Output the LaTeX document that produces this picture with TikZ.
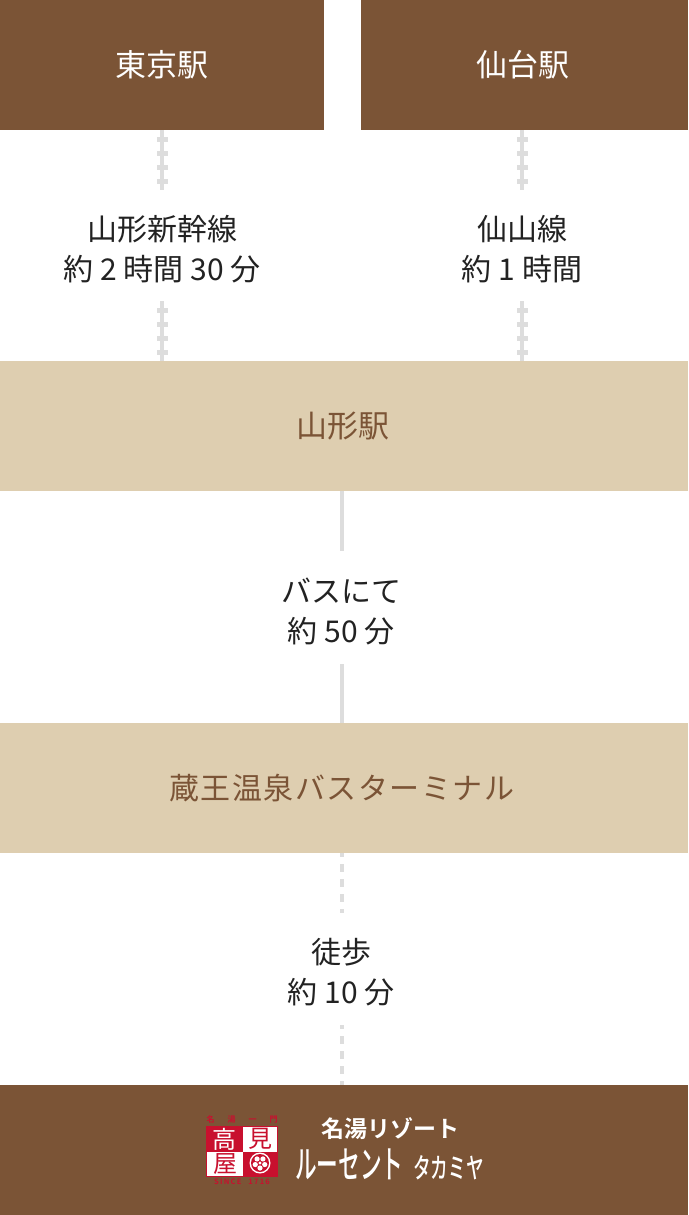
\documentclass[tikz,border=0pt]{standalone}
\usepackage{fontspec}
\setmainfont{Noto Sans CJK JP}
\newfontfamily\boldjp{Noto Sans CJK JP Bold}
\newfontfamily\mediumjp{Noto Sans CJK JP Medium}
\definecolor{brownbox}{HTML}{7B5436}
\definecolor{beigebox}{HTML}{DECEB0}
\definecolor{linegrey}{HTML}{DDDDDD}
\definecolor{inktext}{HTML}{222222}
\definecolor{logored}{HTML}{C8102E}
\tikzset{
  x=1pt,y=-1pt,
  box/.style={draw=none,inner sep=0pt,outer sep=0pt,minimum height=130pt,font=\fontsize{31}{31}\selectfont,anchor=center},
  brownstation/.style={box,fill=brownbox,text=white},
  beigestation/.style={box,fill=beigebox,text=brownbox,minimum width=688pt},
  routelabel/.style={inner sep=0pt,align=center,text=inktext,font=\fontsize{30}{40}\selectfont},
  solidlink/.style={draw=linegrey,line width=4.4pt},
  dashlink/.style={draw=linegrey,line width=4.4pt,dash pattern=on 8pt off 7pt,dash phase=4pt},
  raillink/.style={solidlink,postaction={draw=linegrey,line width=11pt,dash pattern=on 5pt off 9pt,dash phase=7pt}},
}
\begin{document}
\begin{tikzpicture}
\useasboundingbox (0,0) rectangle (688,1215);
\node[brownstation,minimum width=324pt] (tokyo) at (162,65) {東京駅};
\node[brownstation,minimum width=327pt] (sendai) at (524.5,65) {\hspace{-3pt}仙台駅};
\node[beigestation] (yamagata) at (344,426.2) {\hspace{-2pt}\raisebox{-0.8pt}{山形駅}};
\node[beigestation] (zao) at (344,788.2) {\hspace{-4pt}\raisebox{-0.8pt}{\fontsize{30}{30}\selectfont\addfontfeatures{LetterSpace=5}蔵王温泉バスターミナル}};
\node[brownstation,minimum width=688pt] (hotel) at (344,1150) {};

\node[routelabel] (shinkansen) at (162,249.3) {山形新幹線\\約 2 時間 30 分};
\node[routelabel] (senzan) at (522,249.3) {仙山線\\約 1 時間};
\node[routelabel] (bus) at (341,611.3) {バスにて\\約 50 分};
\node[routelabel] (walk) at (341,972.3) {徒歩\\約 10 分};

\coordinate (a1) at (162,190);
\coordinate (a2) at (162,301);
\coordinate (b1) at (522,190);
\coordinate (b2) at (522,301);
\coordinate (c1) at (342,551);
\coordinate (c2) at (342,664);
\coordinate (d1) at (342,913);
\coordinate (d2) at (342,1025);

\draw[raillink] (tokyo.south -| a1) -- (a1);
\draw[raillink] (a2) -- (yamagata.north -| a2);
\draw[raillink] (sendai.south -| b1) -- (b1);
\draw[raillink] (b2) -- (yamagata.north -| b2);
\draw[solidlink] (yamagata.south -| c1) -- (c1);
\draw[solidlink] (c2) -- (zao.north -| c2);
\draw[dashlink] (zao.south -| d1) -- (d1);
\draw[dashlink] (d2) -- (hotel.north -| d2);

% logo
\fill[logored] (206,1126) rectangle (278,1177);
\fill[white] (243,1127) rectangle (277,1151.5);
\fill[white] (207,1151.5) rectangle (243,1176);
\node[inner sep=0pt,text=white,font=\fontsize{24}{24}\selectfont] (kou) at (224,1139) {高};
\node[inner sep=0pt,text=logored,font=\fontsize{24}{24}\selectfont] (mi) at (260,1139) {見};
\node[inner sep=0pt,text=logored,font=\fontsize{24}{24}\selectfont] (ya) at (225,1164) {屋};
\fill[white] (260,1163) circle (10.5pt);
\fill[logored] (260,1163) circle (9pt);
\foreach \a in {90,162,234,306,18}{\fill[white] (260,1163) ++(\a:-5pt) circle (2.6pt);}
\fill[white] (260,1163) circle (1.6pt);
\node[inner sep=0pt,text=logored,font=\boldjp\fontsize{8}{8}\selectfont] (mon) at (242,1119) {名\hspace{13pt}湯\hspace{13pt}一\hspace{13pt}門};
\node[inner sep=0pt,text=logored,font=\boldjp\fontsize{7.5}{8}\selectfont] (since) at (242,1182) {S\,I\,N\,C\,E\hspace{7pt}1\,7\,1\,6};
\node[inner sep=0pt,text=white,font=\boldjp\fontsize{23}{23}\selectfont] (meito) at (390,1129) {名湯リゾート};
\node[inner sep=0pt,text=white,font=\mediumjp\fontsize{38}{38}\selectfont,xscale=0.57,anchor=west] (lucent) at (295,1164) {ルーセント};
\node[inner sep=0pt,text=white,font=\mediumjp\fontsize{28}{28}\selectfont,xscale=0.63,anchor=west] (takamiya) at (413,1168) {タカミヤ};
\end{tikzpicture}
\end{document}
